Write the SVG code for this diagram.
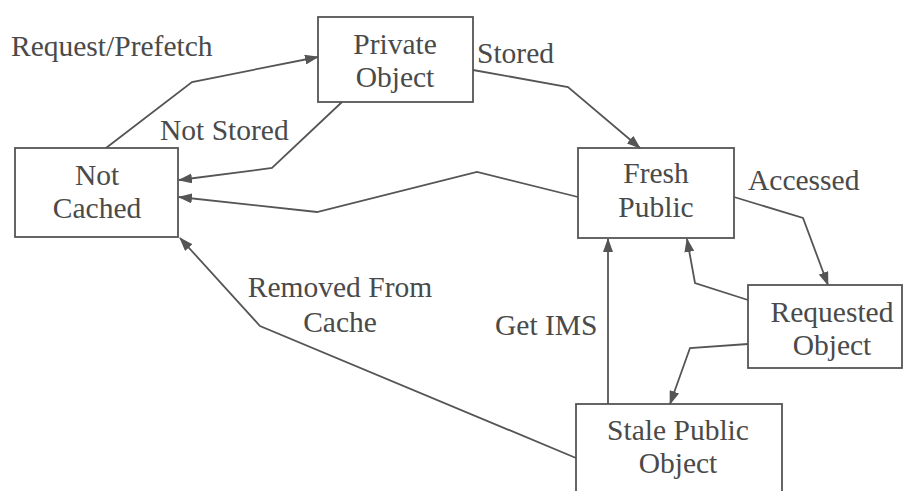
<svg xmlns="http://www.w3.org/2000/svg" width="904" height="491" viewBox="0 0 904 491">
<style>
.box{fill:none;stroke:#555;stroke-width:1.8}
.t{font-family:"Liberation Serif","Times New Roman",serif;font-size:29.5px;fill:#4a4a4a}
.c{text-anchor:middle}
.e{fill:none;stroke:#555;stroke-width:1.8;marker-end:url(#ah)}
</style>
<defs>
<marker id="ah" viewBox="0 0 14 10" refX="13" refY="5" markerWidth="14" markerHeight="10" markerUnits="userSpaceOnUse" orient="auto">
<path d="M0,0 L14,5 L0,10 Z" fill="#555"/>
</marker>
</defs>
<rect width="904" height="491" fill="#fff"/>
<g id="connectors">
<polyline class="e" points="106,148 192,82 318,57"/>
<polyline class="e" points="342,102 272,168 179,180"/>
<polyline class="e" points="578,197 477,172 317,212 179,197"/>
<polyline class="e" points="473,70 568,87 640,148"/>
<polyline class="e" points="734,197 803,218 828,285"/>
<polyline class="e" points="748,300 695,283 687,239"/>
<polyline class="e" points="748,344 690,348 670,404"/>
<polyline class="e" points="608,404 608,239"/>
<polyline class="e" points="576,458 260,326 180,238"/>
</g>
<g id="labels">
<text class="t" x="11" y="56">Request/Prefetch</text>
<text class="t" x="160" y="140">Not Stored</text>
<text class="t" x="477" y="63">Stored</text>
<text class="t" x="748" y="190">Accessed</text>
<text class="t c" x="340" y="297">Removed From</text>
<text class="t c" x="340" y="332">Cache</text>
<text class="t" x="495" y="335">Get IMS</text>
</g>
<g id="private-object">
<rect class="box" x="318" y="17" width="155" height="85"/>
<text class="t c" x="395" y="54">Private</text>
<text class="t c" x="395" y="87">Object</text>
</g>
<g id="not-cached">
<rect class="box" x="15" y="148" width="163" height="89"/>
<text class="t c" x="97" y="185">Not</text>
<text class="t c" x="97" y="218">Cached</text>
</g>
<g id="fresh-public">
<rect class="box" x="578" y="148" width="156" height="90"/>
<text class="t c" x="656" y="183">Fresh</text>
<text class="t c" x="656" y="217">Public</text>
</g>
<g id="requested-object">
<rect class="box" x="748" y="285" width="154" height="83"/>
<text class="t c" x="832" y="322">Requested</text>
<text class="t c" x="832" y="355">Object</text>
</g>
<g id="stale-public-object">
<rect class="box" x="576" y="404" width="206" height="100"/>
<text class="t c" x="678" y="440">Stale Public</text>
<text class="t c" x="678" y="473">Object</text>
</g>
</svg>
